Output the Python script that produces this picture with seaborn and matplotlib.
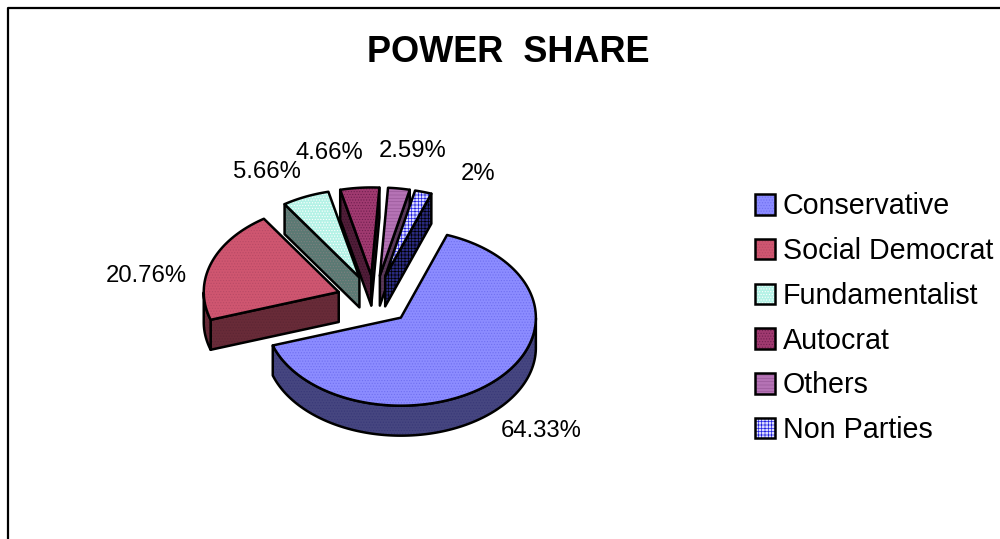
import numpy as np
import seaborn as sns
import matplotlib.pyplot as plt
from matplotlib.patches import Polygon, Patch
from matplotlib.legend_handler import HandlerTuple

parties = ["Conservative", "Social Democrat", "Fundamentalist", "Autocrat", "Others", "Non Parties"]
shares = [64.33, 20.76, 5.66, 4.66, 2.59, 2.0]
share_labels = ["64.33%", "20.76%", "5.66%", "4.66%", "2.59%", "2%"]
face_colors = ["#8C8CFF", "#CF5670", "#B4F2E6", "#A03A70", "#B573B5", "#DDDDFF"]
hatch_colors = ["#6F6FF0", "#B84A66", "#FFFFFF", "#702050", "#9A5A9A", "#2020E0"]
hatches = ["......", "......", "......", "......", "-----", "+++++"]
label_pos = [(541, 431), (146, 276), (267, 172), (329, 153), (413, 151), (478, 174)]

sns.set_theme(style="white")
plt.rcParams["font.family"] = ["Liberation Sans", "DejaVu Sans"]
plt.rcParams["hatch.linewidth"] = 0.5

CENTER = (374.5, 300)
RX, RY = 135, 88
DEPTH = 30
EXPLODE = 0.28
START = 20


def draw_poly(ax, pts, face, hatch_color, hatch, zorder):
    ax.add_patch(Polygon(pts, closed=True, facecolor=face, edgecolor=hatch_color,
                         hatch=hatch, lw=0, zorder=zorder))
    ax.add_patch(Polygon(pts, closed=True, fill=False, edgecolor="black", lw=1.8,
                         joinstyle="round", zorder=zorder))


def draw_wedge(ax, a0, a1, i, zorder):
    mid = np.radians((a0 + a1) / 2)
    tip = np.array([CENTER[0] + EXPLODE * RX * np.sin(mid), CENTER[1] - EXPLODE * RY * np.cos(mid)])
    ang = np.radians(np.linspace(a0, a1, max(int(a1 - a0), 2) + 1))
    arc = np.column_stack([tip[0] + RX * np.sin(ang), tip[1] - RY * np.cos(ang)])
    down = np.array([0, DEPTH])
    side = tuple(c * 0.5 for c in sns.color_palette([face_colors[i]])[0])
    side_hatch = tuple(c * 0.5 for c in sns.color_palette([hatch_colors[i]])[0])
    if parties[i] == "Non Parties":
        side, side_hatch = "#2A2A80", "#000000"

    # only faces turned toward the viewer get drawn
    for p, q in [(arc[-1], tip), (tip, arc[0])]:
        if q[0] - p[0] < 0:
            draw_poly(ax, [p, q, q + down, p + down], side, side_hatch, hatches[i], zorder)
    visible = np.diff(arc[:, 0]) < 0
    if visible.any():
        idx = np.where(visible)[0]
        strip = arc[idx[0]:idx[-1] + 2]
        draw_poly(ax, np.vstack([strip, (strip + down)[::-1]]), side, side_hatch, hatches[i], zorder)
    draw_poly(ax, np.vstack([tip, arc]), face_colors[i], hatch_colors[i], hatches[i], zorder + 1)


fig, ax = plt.subplots(figsize=(10, 5.39), dpi=100)
ax.set_position([0, 0, 1, 1])
ax.set_xlim(0, 1000)
ax.set_ylim(539, 0)
ax.axis("off")

# chart frame runs off the right and bottom of the picture
ax.plot([8, 8, 1000], [539, 8, 8], color="black", lw=1.6, zorder=1)

edges = START + np.cumsum([0] + [s * 3.6 for s in shares])
order = [3, 4, 2, 5, 1, 0]
for z, i in enumerate(order):
    draw_wedge(ax, edges[i], edges[i + 1], i, 3 + 2 * z)

for text, (x, y) in zip(share_labels, label_pos):
    ax.text(x, y, text, ha="center", va="center", fontsize=17.2, color="black", zorder=30)

ax.text(508, 52, "POWER  SHARE", ha="center", va="center", fontsize=26,
        fontweight="bold", color="black")

handles = []
for i in range(len(parties)):
    handles.append((Patch(facecolor=face_colors[i], edgecolor=hatch_colors[i], hatch=hatches[i], lw=0),
                    Patch(fill=False, edgecolor="black", lw=1.8)))
ax.legend(handles, parties, handler_map={tuple: HandlerTuple(ndivide=1, pad=0)},
          loc="upper left", bbox_to_anchor=(0.7545, 0.643), frameon=False, fontsize=20.6,
          handlelength=0.72, handleheight=0.72, handletextpad=0.26, labelspacing=0.585,
          borderpad=0, borderaxespad=0, labelcolor="black")

plt.savefig("out.png", dpi=100)
